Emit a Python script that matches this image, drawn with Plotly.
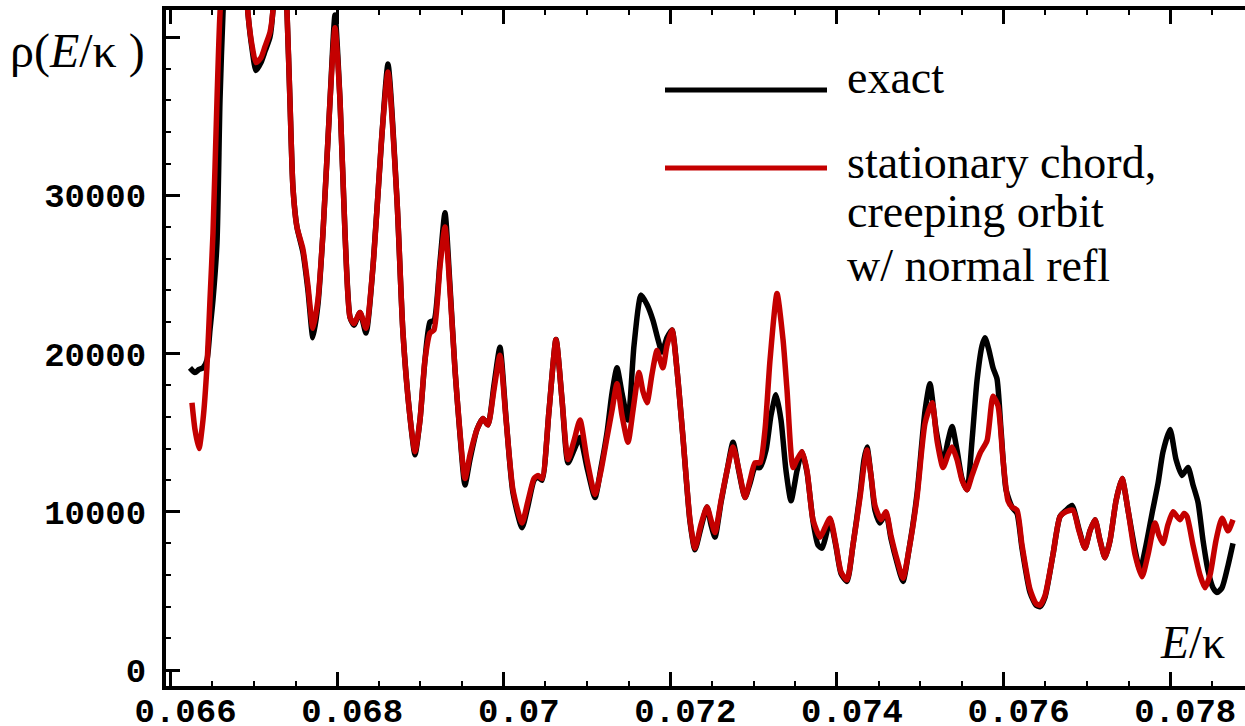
import plotly.graph_objects as go

# ---------------- data ----------------
E_red = [0.066257, 0.066293, 0.066341, 0.066389, 0.066437, 0.066473, 0.066509, 0.066557, 0.066593, 0.066761,
         0.066929, 0.066977, 0.067025, 0.067085, 0.067133, 0.067193, 0.067229, 0.067313, 0.067397, 0.067433,
         0.067469, 0.067517, 0.067589, 0.067649, 0.067709, 0.067769, 0.067829, 0.067914, 0.067974, 0.068034,
         0.068094, 0.068154, 0.068202, 0.068274, 0.068346, 0.068430, 0.068538, 0.068610, 0.068718, 0.068790,
         0.068874, 0.068934, 0.068994, 0.069054, 0.069114, 0.069162, 0.069234, 0.069294, 0.069354, 0.069414,
         0.069474, 0.069534, 0.069594, 0.069678, 0.069750, 0.069810, 0.069882, 0.069954, 0.070026, 0.070110,
         0.070219, 0.070291, 0.070363, 0.070411, 0.070459, 0.070543, 0.070627, 0.070699, 0.070771, 0.070843,
         0.070915, 0.070999, 0.071095, 0.071167, 0.071239, 0.071299, 0.071359, 0.071419, 0.071491, 0.071551,
         0.071623, 0.071671, 0.071719, 0.071779, 0.071839, 0.071875, 0.071911, 0.071959, 0.072019, 0.072079,
         0.072151, 0.072235, 0.072295, 0.072367, 0.072439, 0.072487, 0.072535, 0.072608, 0.072680, 0.072752,
         0.072824, 0.072896, 0.072956, 0.073016, 0.073076, 0.073136, 0.073196, 0.073280, 0.073352, 0.073400,
         0.073472, 0.073520, 0.073580, 0.073640, 0.073712, 0.073796, 0.073856, 0.073916, 0.073988, 0.074048,
         0.074120, 0.074192, 0.074276, 0.074324, 0.074360, 0.074408, 0.074456, 0.074528, 0.074588, 0.074648,
         0.074720, 0.074792, 0.074864, 0.074960, 0.075057, 0.075141, 0.075201, 0.075273, 0.075333, 0.075381,
         0.075441, 0.075501, 0.075561, 0.075621, 0.075717, 0.075801, 0.075873, 0.075933, 0.075993, 0.076053,
         0.076101, 0.076161, 0.076221, 0.076317, 0.076389, 0.076437, 0.076497, 0.076593, 0.076677, 0.076749,
         0.076833, 0.076905, 0.076977, 0.077037, 0.077097, 0.077157, 0.077217, 0.077278, 0.077350, 0.077422,
         0.077494, 0.077578, 0.077662, 0.077734, 0.077818, 0.077866, 0.077914, 0.077974, 0.078034, 0.078082,
         0.078118, 0.078166, 0.078202, 0.078274, 0.078358, 0.078418, 0.078478, 0.078550, 0.078622, 0.078694,
         0.078754]
rho_red = [16900, 15200, 14000, 15800, 19200, 23400, 27600, 36000, 41500, 55000,
           41500, 39500, 38400, 38700, 39400, 40300, 41700, 51800, 41700, 36000,
           30500, 28000, 26600, 24300, 21600, 23400, 27600, 36000, 40600, 36000,
           27600, 22300, 21900, 22600, 21600, 25500, 33900, 37800, 29700, 21300,
           16000, 13800, 15800, 19600, 21300, 21500, 25500, 28000, 24000, 19000,
           15000, 12100, 13600, 15200, 15900, 15500, 17700, 19900, 15900, 11400,
           9300, 10700, 12100, 12300, 12100, 16400, 20900, 17100, 13300, 14500,
           15800, 13300, 11100, 12600, 14700, 16400, 18100, 16100, 14400, 16400,
           18800, 17600, 16900, 18700, 20200, 19600, 19100, 20500, 21500, 19000,
           14700, 9500, 7700, 9200, 10300, 9500, 8700, 10700, 12600, 14100,
           12600, 10900, 12000, 13100, 13100, 15200, 19600, 23800, 20900, 17700,
           12800, 13300, 13800, 12600, 9500, 8400, 9000, 9600, 7900, 6200,
           5700, 7900, 10900, 12900, 13900, 12300, 10400, 9500, 10000, 8500,
           7000, 5800, 7600, 10900, 15600, 16900, 14500, 12800, 13600, 14100,
           13300, 12000, 11400, 12300, 13700, 14500, 17300, 16700, 13300, 10700,
           10300, 10100, 7900, 5100, 4200, 4100, 4700, 7300, 9700, 10000,
           10100, 8800, 7700, 8800, 9500, 8200, 7100, 8200, 10700, 12100,
           10100, 7300, 5900, 7300, 9300, 8500, 8000, 9200, 10000, 9700,
           9500, 9900, 9700, 7900, 6000, 5200, 6000, 8200, 9600, 8800,
           9500]

E_exact = [0.066233, 0.066293, 0.066341, 0.066389, 0.066437, 0.066473, 0.066509, 0.066557, 0.066593, 0.066629,
           0.066761, 0.066929, 0.066977, 0.067025, 0.067085, 0.067133, 0.067193, 0.067229, 0.067313, 0.067397,
           0.067433, 0.067469, 0.067517, 0.067589, 0.067649, 0.067709, 0.067769, 0.067829, 0.067914, 0.067974,
           0.068034, 0.068094, 0.068154, 0.068202, 0.068274, 0.068346, 0.068430, 0.068538, 0.068610, 0.068718,
           0.068790, 0.068874, 0.068934, 0.068994, 0.069054, 0.069114, 0.069162, 0.069234, 0.069294, 0.069354,
           0.069414, 0.069474, 0.069534, 0.069594, 0.069678, 0.069750, 0.069810, 0.069882, 0.069954, 0.070026,
           0.070110, 0.070219, 0.070291, 0.070363, 0.070411, 0.070459, 0.070543, 0.070627, 0.070699, 0.070771,
           0.070843, 0.070915, 0.070999, 0.071095, 0.071167, 0.071239, 0.071299, 0.071359, 0.071419, 0.071491,
           0.071563, 0.071647, 0.071719, 0.071791, 0.071851, 0.071899, 0.071959, 0.072019, 0.072079, 0.072151,
           0.072235, 0.072295, 0.072367, 0.072439, 0.072487, 0.072535, 0.072608, 0.072680, 0.072752, 0.072824,
           0.072896, 0.072956, 0.073016, 0.073076, 0.073148, 0.073208, 0.073268, 0.073328, 0.073388, 0.073448,
           0.073520, 0.073580, 0.073640, 0.073712, 0.073772, 0.073820, 0.073868, 0.073916, 0.073988, 0.074048,
           0.074120, 0.074192, 0.074276, 0.074324, 0.074360, 0.074408, 0.074456, 0.074516, 0.074588, 0.074648,
           0.074720, 0.074792, 0.074864, 0.074960, 0.075057, 0.075116, 0.075189, 0.075273, 0.075333, 0.075381,
           0.075441, 0.075501, 0.075561, 0.075621, 0.075681, 0.075741, 0.075777, 0.075825, 0.075873, 0.075921,
           0.075969, 0.076029, 0.076101, 0.076161, 0.076221, 0.076317, 0.076389, 0.076437, 0.076497, 0.076593,
           0.076677, 0.076749, 0.076821, 0.076905, 0.076977, 0.077037, 0.077097, 0.077157, 0.077217, 0.077278,
           0.077350, 0.077422, 0.077494, 0.077578, 0.077638, 0.077710, 0.077782, 0.077854, 0.077914, 0.077998,
           0.078070, 0.078142, 0.078214, 0.078274, 0.078334, 0.078394, 0.078454, 0.078514, 0.078562, 0.078622,
           0.078694, 0.078754]
rho_exact = [19100, 18800, 19000, 19100, 19600, 21500, 23400, 27000, 36000, 41500,
             55000, 41500, 39300, 37900, 38400, 39100, 40000, 41700, 51800, 41700,
             36000, 30500, 28000, 26400, 24000, 21000, 23100, 27600, 36000, 41400,
             36000, 27600, 22300, 21800, 22600, 21300, 25500, 33900, 38300, 29700,
             21300, 16000, 13600, 15800, 19600, 22000, 22100, 25800, 28900, 24300,
             19000, 14900, 11700, 13300, 15200, 15900, 15500, 18000, 20400, 16000,
             11200, 9000, 10400, 12000, 12200, 12000, 16400, 20900, 17100, 13100,
             13900, 14700, 12800, 10900, 12800, 15000, 17500, 19100, 17500, 15800,
             20500, 23700, 23100, 22100, 20900, 20100, 21000, 21500, 19000, 14700,
             9400, 7600, 9000, 10300, 9200, 8400, 10600, 12600, 14400, 12500,
             10900, 11800, 12800, 12800, 13900, 16100, 17400, 15800, 12600, 10700,
             12600, 13800, 12500, 9400, 7900, 7700, 8500, 9500, 7800, 6100,
             5600, 7900, 11100, 13300, 14100, 12300, 10100, 9300, 9900, 8300,
             6800, 5600, 7600, 11100, 16400, 18100, 15200, 13100, 14500, 15400,
             13900, 12100, 11400, 14500, 18300, 20500, 21000, 20200, 19100, 18400,
             15200, 11400, 10300, 9900, 7700, 4900, 4100, 4000, 4600, 7300,
             9700, 10100, 10400, 8900, 7700, 8800, 9500, 8200, 7100, 8200,
             10700, 12100, 10100, 7600, 6300, 7900, 9900, 11800, 13800, 15200,
             13300, 12300, 12800, 11700, 10600, 8200, 6300, 5200, 4900, 5200,
             6600, 8000]

x_tick_vals = [0.066, 0.068, 0.070, 0.072, 0.074, 0.076, 0.078]
x_tick_text = ["0.066", "0.068", "0.07", "0.072", "0.074", "0.076", "0.078"]
y_tick_vals = [0, 10000, 20000, 30000, 40000]
y_tick_text = ["0", "10000", "20000", "30000", ""]

name_exact = "exact"
name_red_lines = ["stationary chord,", "creeping orbit", "w/ normal refl"]

# ---------------- styling ----------------
BLACK = "#000000"
RED = "#c40000"
W, H = 1245, 726
L, R, T, B = 166, 0, 10, 40
PW, PH = W - L - R, H - T - B


def px(xp):
    return (xp - L) / PW


def py(yp):
    return (H - B - yp) / PH


fig = go.Figure()
fig.add_trace(go.Scatter(x=E_exact, y=rho_exact, mode="lines", name=name_exact,
                         line=dict(color=BLACK, width=5.5, shape="spline", smoothing=0.6),
                         showlegend=False))
fig.add_trace(go.Scatter(x=E_red, y=rho_red, mode="lines", name=" ".join(name_red_lines),
                         line=dict(color=RED, width=5.5, shape="spline", smoothing=0.6),
                         showlegend=False))

tickfont = dict(family="Liberation Mono", size=34, color="black", weight="bold")

fig.update_layout(
    width=W, height=H,
    margin=dict(l=L, r=R, t=T, b=B, pad=0),
    paper_bgcolor="white", plot_bgcolor="white",
    showlegend=False,
    xaxis=dict(range=[0.065945, 0.078898], showgrid=False, zeroline=False,
               showline=True, linewidth=4, linecolor="black", mirror="allticks",
               ticks="inside", ticklen=14, tickwidth=3, tickcolor="black",
               tickmode="array", tickvals=x_tick_vals, ticktext=x_tick_text,
               tickfont=tickfont, ticklabelshift=15, ticklabelstandoff=-9,
               minor=dict(ticks="inside", ticklen=5, tickwidth=1.5, tickcolor="black",
                          dtick=0.0005, tick0=0.066, showgrid=False),
               automargin=False),
    yaxis=dict(range=[-1010, 41720], showgrid=False, zeroline=False,
               showline=True, linewidth=4, linecolor="black", mirror=False,
               ticks="inside", ticklen=14, tickwidth=3, tickcolor="black",
               tickmode="array", tickvals=y_tick_vals, ticktext=y_tick_text,
               tickfont=tickfont, ticklabelstandoff=9,
               minor=dict(ticks="inside", ticklen=5, tickwidth=1.5, tickcolor="black",
                          dtick=2000, tick0=0, showgrid=False),
               automargin=False),
)

serif = "Liberation Serif"
# legend samples
fig.add_shape(type="line", xref="paper", yref="paper", x0=px(665), x1=px(827), y0=py(90), y1=py(90),
              line=dict(color=BLACK, width=5))
fig.add_shape(type="line", xref="paper", yref="paper", x0=px(665), x1=px(827), y0=py(168), y1=py(168),
              line=dict(color=RED, width=5))

ann = []
ann.append(dict(text=name_exact, x=px(845), y=py(77.5)))
for txt, yy in zip(name_red_lines, [162.5, 211.5, 265.5]):
    ann.append(dict(text=txt, x=px(845), y=py(yy)))
for a in ann:
    fig.add_annotation(xref="paper", yref="paper", xanchor="left", yanchor="middle",
                       showarrow=False, font=dict(family=serif, size=46, color="black"), **a)

fig.add_annotation(xref="paper", yref="paper", xanchor="left", yanchor="middle", showarrow=False,
                   x=px(8), y=py(51), text="ρ(<i>E</i>/κ )",
                   font=dict(family=serif, size=48, color="black"))
fig.add_annotation(xref="paper", yref="paper", xanchor="left", yanchor="middle", showarrow=False,
                   x=px(1158), y=py(642.5), text="<i>E</i>/κ",
                   font=dict(family=serif, size=46, color="black"))

fig.write_html("out.html", config={"displayModeBar": False},
               post_script="document.body.style.margin='0';document.body.style.overflow='hidden';")
